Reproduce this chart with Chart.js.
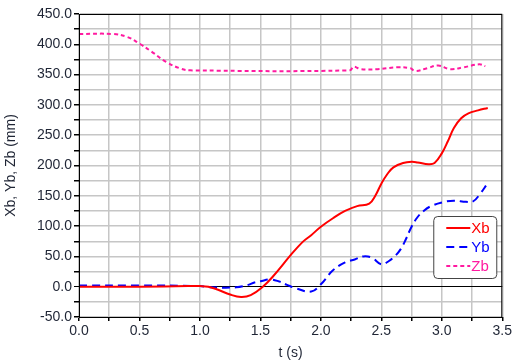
<!DOCTYPE html>
<html>
<head>
<meta charset="utf-8">
<script src="https://cdn.jsdelivr.net/npm/chart.js@4"></script>
<style>
  html, body { margin: 0; padding: 0; background: #fff; }
  #wrap { width: 514px; height: 362px; }
</style>
</head>
<body>
<div id="wrap"><canvas id="canvas_chart"></canvas></div>
<script>
// values
const tXb = [0, 0.5, 0.9, 1.0, 1.07, 1.15, 1.25, 1.34, 1.42, 1.52, 1.6, 1.75, 1.85, 1.92, 2.0, 2.1, 2.2, 2.3, 2.4, 2.45, 2.5, 2.55, 2.6, 2.68, 2.75, 2.8, 2.89, 2.94, 3.0, 3.05, 3.1, 3.16, 3.22, 3.3, 3.38];
const xb = [0, 0, 1, 1, 0, -5, -13, -17, -14, 0, 16, 52, 74, 85, 99, 113, 125, 133, 137, 150, 170, 186, 197, 204, 206, 205, 202, 204, 220, 240, 262, 278, 286, 291, 295];

const tYb = [0, 0.5, 1.0, 1.1, 1.3, 1.4, 1.45, 1.5, 1.58, 1.65, 1.72, 1.8, 1.92, 2.0, 2.1, 2.2, 2.28, 2.35, 2.42, 2.5, 2.56, 2.62, 2.66, 2.7, 2.75, 2.8, 2.85, 2.9, 3.0, 3.1, 3.2, 3.26, 3.32, 3.37];
const yb = [2, 2, 1, -1, -1, 3, 7, 9, 12, 9, 3, -3, -8, 4, 27, 40, 45, 50, 48, 37, 42, 52, 62, 77, 99, 115, 125, 132, 139, 142, 140, 141, 154, 168];

const tZb = [0, 0.28, 0.4, 0.5, 0.6, 0.72, 0.84, 0.92, 2.24, 2.27, 2.33, 2.47, 2.63, 2.74, 2.78, 2.88, 2.97, 3.07, 3.18, 3.31, 3.36];
const zb = [417, 417, 412, 401, 388, 371, 360, 357, 357, 363, 359, 359, 362, 360.5, 356, 360.5, 365, 359, 362, 367, 364];

const seriesNames = ['Xb', 'Yb', 'Zb'];

const pts = (t, v) => t.map((x, i) => ({ x: x, y: v[i] }));

const FONT = '"Liberation Sans", Arial, sans-serif';
const TXT = '#1f2535';
const GRID = '#c6c6c6';

// frame around the plot + legend box inside the plot
const framePlugin = {
    id: 'frame',
    afterDraw(chart) {
        const c = chart.ctx;
        const a = chart.chartArea;
        c.save();
        c.strokeStyle = '#000';
        c.lineWidth = 1;
        c.strokeRect(a.left + 0.5, a.top + 0.5, a.right - a.left - 1, a.bottom - a.top);

        // legend
        const w = 63, h = 62;
        const x0 = a.right - 6 - w, y0 = a.bottom - 39 - h;
        c.fillStyle = '#fff';
        c.strokeStyle = '#444';
        c.beginPath();
        c.roundRect(x0 + 0.5, y0 + 0.5, w, h, 4);
        c.fill();
        c.stroke();
        c.font = '15px ' + FONT;
        c.textBaseline = 'middle';
        chart.data.datasets.forEach((ds, i) => {
            const yy = y0 + 12 + i * 19;
            c.strokeStyle = ds.borderColor;
            c.lineWidth = 2;
            c.setLineDash(ds.borderDash || []);
            c.beginPath();
            c.moveTo(x0 + 13, yy);
            c.lineTo(x0 + 37, yy);
            c.stroke();
            c.setLineDash([]);
            c.fillStyle = ds.borderColor;
            c.fillText(ds.label, x0 + 38, yy + 1);
        });
        c.restore();
    }
};

new Chart(document.getElementById('canvas_chart'), {
    type: 'line',
    data: {
        datasets: [
            {
                label: seriesNames[0],
                data: pts(tXb, xb),
                borderColor: '#ff0000',
                borderWidth: 2,
                tension: 0.4,
                pointRadius: 0
            },
            {
                label: seriesNames[1],
                data: pts(tYb, yb),
                borderColor: '#0000ff',
                borderWidth: 2,
                borderDash: [8, 5],
                tension: 0.4,
                pointRadius: 0
            },
            {
                label: seriesNames[2],
                data: pts(tZb, zb),
                borderColor: '#ff1aa0',
                borderWidth: 2,
                borderDash: [4, 3],
                tension: 0.4,
                pointRadius: 0
            }
        ]
    },
    options: {
        responsive: true,
        maintainAspectRatio: false,
        animation: false,
        layout: { padding: { top: 14, right: 8, left: 0, bottom: 0 } },
        plugins: {
            legend: { display: false },
            tooltip: { enabled: false }
        },
        scales: {
            x: {
                type: 'linear',
                min: 0,
                max: 3.5,
                afterFit: (s) => { s.height = 45; },
                border: { color: '#000' },
                grid: {
                    color: GRID,
                    lineWidth: 1.5,
                    tickColor: '#000',
                    tickLength: 4
                },
                ticks: {
                    stepSize: 0.25,
                    autoSkip: false,
                    maxRotation: 0,
                    padding: 2,
                    color: TXT,
                    font: { family: FONT, size: 14 },
                    callback: (v) => (Math.abs(v * 2 - Math.round(v * 2)) < 1e-6 ? v.toFixed(1) : '')
                },
                title: {
                    display: true,
                    text: 't (s)',
                    color: TXT,
                    font: { family: FONT, size: 14 },
                    padding: { top: 0, bottom: 0 }
                }
            },
            y: {
                min: -50,
                max: 450,
                afterFit: (s) => { s.width = 79; },
                border: { color: '#000' },
                grid: {
                    color: (ctx) => (ctx.tick.value === 0 ? '#000' : GRID),
                    lineWidth: (ctx) => (ctx.tick.value === 0 ? 1 : 1.5),
                    tickColor: '#000',
                    tickLength: 5
                },
                ticks: {
                    stepSize: 25,
                    autoSkip: false,
                    padding: 2,
                    color: TXT,
                    font: { family: FONT, size: 14 },
                    callback: (v) => (v % 50 === 0 ? v.toFixed(1) : '')
                },
                title: {
                    display: true,
                    text: 'Xb, Yb, Zb (mm)',
                    color: TXT,
                    font: { family: FONT, size: 14 },
                    padding: { top: 3, bottom: 0 }
                }
            }
        }
    },
    plugins: [framePlugin]
});
</script>
</body>
</html>
